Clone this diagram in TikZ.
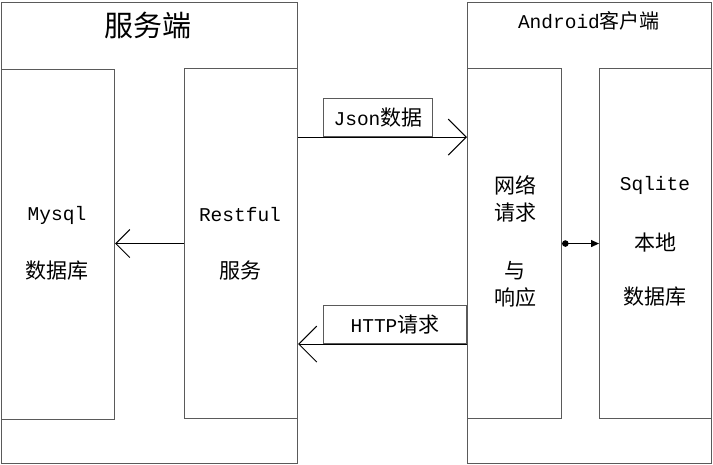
\documentclass[tikz,border=0pt]{standalone}
\usepackage{fontspec}
\setmainfont{Noto Sans CJK SC}
\newfontfamily\lat{Liberation Mono}
\usetikzlibrary{arrows.meta}
\definecolor{edge}{HTML}{5A5A5A}
\tikzset{
  box/.style={draw=edge, line width=1.1pt, inner sep=0pt, anchor=north west},
  lbl/.style={inner sep=0pt, font=\fontsize{21}{24}\selectfont},
  tag/.style={draw=edge, line width=1.1pt, inner sep=0pt, anchor=north west, font=\fontsize{21}{24}\selectfont},
  bigbarb/.style={line width=1pt, -{Straight Barb[length=18pt, width=36pt, line width=1pt]}},
  midbarb/.style={line width=1pt, -{Straight Barb[length=14pt, width=28pt, line width=1pt]}},
  solidtip/.style={line width=1.2pt, {Circle[length=6.5pt]}-{Triangle[length=8pt, width=7pt]}},
}
\begin{document}
\begin{tikzpicture}[x=1pt, y=-1pt]
\useasboundingbox (0,0) rectangle (713,465);
% outer containers
\node[box, minimum width=296pt, minimum height=461pt] (server) at (1,2) {};
\node[box, minimum width=244pt, minimum height=461pt] (client) at (467,2) {};
% titles
\node[inner sep=0pt, font=\fontsize{29}{32}\selectfont] (servertitle) at (148,25) {服务端};
\node[inner sep=0pt, font=\fontsize{20}{24}\selectfont] (clienttitle) at (589,21) {{\lat\fontsize{19.5}{24}\selectfont Android}客户端};
% inner boxes
\node[box, minimum width=113pt, minimum height=350pt] (mysql) at (1,69) {};
\node[box, minimum width=113pt, minimum height=350pt] (rest) at (184,68) {};
\node[box, minimum width=94pt, minimum height=350pt] (net) at (467,68) {};
\node[box, minimum width=112pt, minimum height=350pt] (sqlite) at (599,68) {};
% inner texts
\node[lbl] (t1) at (57,215) {\lat\fontsize{19.5}{24}\selectfont Mysql};
\node[lbl] (t2) at (57,271) {数据库};
\node[lbl] (t3) at (240,215) {\lat\fontsize{19.5}{24}\selectfont Restful};
\node[lbl] (t4) at (240,271) {服务};
\node[lbl] (t5) at (515,185) {网络};
\node[lbl] (t6) at (515,213) {请求};
\node[lbl] (t7) at (515,271) {与};
\node[lbl] (t8) at (515,298) {响应};
\node[lbl] (t9) at (655,185) {\lat\fontsize{19.5}{24}\selectfont Sqlite};
\node[lbl] (t10) at (655,243) {本地};
\node[lbl] (t11) at (655,297) {数据库};
% tags
\node[tag, minimum width=109pt, minimum height=38pt] (json) at (323,98) {{\lat\fontsize{19.5}{24}\selectfont Json}数据};
\node[tag, minimum width=143pt, minimum height=38pt] (http) at (323,305) {{\lat\fontsize{19.5}{24}\selectfont HTTP}请求};
% connectors
\draw[bigbarb] (rest.east |- json.south) -- (net.west |- json.south);
\draw[bigbarb] (net.west |- http.south) -- (rest.east |- http.south);
\draw[midbarb] (rest.west) -- (mysql.east |- rest.west);
\draw[solidtip] (net.east) -- (sqlite.west);
\end{tikzpicture}
\end{document}
